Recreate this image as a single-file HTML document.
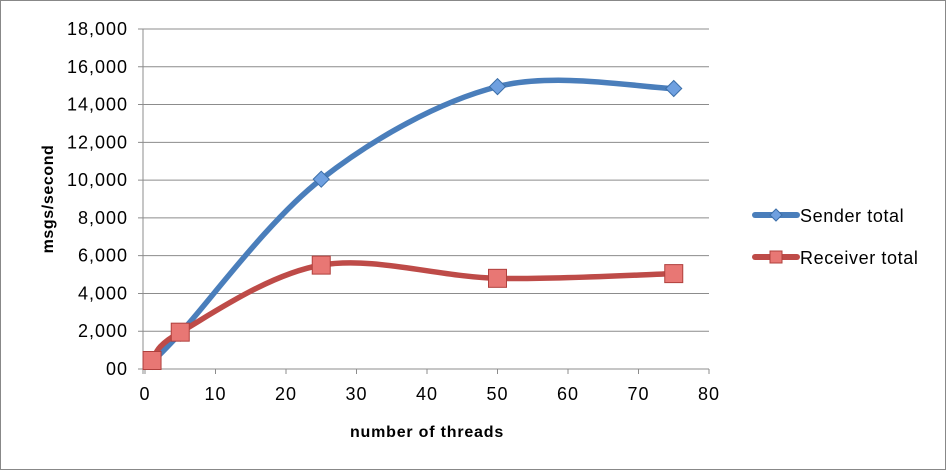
<!DOCTYPE html>
<html><head><meta charset="utf-8"><style>
html,body{margin:0;padding:0;background:#fff}
svg{display:block;font-family:"Liberation Sans",sans-serif}
</style></head><body>
<svg id="chart" width="946" height="470" viewBox="0 0 946 470">
<rect x="0.5" y="0.5" width="945" height="469" fill="#fff" stroke="#888"/>
<g id="grid"></g>
<g id="yticks"></g>
<g id="xticks"></g>
<text transform="translate(53,199) rotate(-90)" text-anchor="middle" font-size="16" font-weight="bold" letter-spacing="0.6">msgs/second</text>
<text x="427" y="437" text-anchor="middle" font-size="16" font-weight="bold" letter-spacing="0.8">number of threads</text>
<g id="series"></g>
<g>
<g>
<line x1="755" y1="215" x2="797" y2="215" stroke="#4a7ebb" stroke-width="6" stroke-linecap="round"/>
<path d="M776,209 L782,215 L776,221 L770,215 Z" fill="#6fa0e0" stroke="#3b6ea8"/>
<text x="800" y="222" font-size="18" letter-spacing="0.6">Sender total</text></g>
<g>
<line x1="755" y1="257" x2="797" y2="257" stroke="#be4b48" stroke-width="6" stroke-linecap="round"/>
<rect x="770" y="251" width="12" height="12" fill="#e87774" stroke="#b0403d"/>
<text x="800" y="264" font-size="18" letter-spacing="0.6">Receiver total</text></g>
</g>
</svg>
<script>
const threads=[1,5,25,50,75];
const senderValues=[400,1900,10050,14950,14850];
const receiverValues=[450,1950,5500,4800,5050];
const yTicks=[0,2000,4000,6000,8000,10000,12000,14000,16000,18000];
const yTickLabels=["00","2,000","4,000","6,000","8,000","10,000","12,000","14,000","16,000","18,000"];
const xTicks=[0,10,20,30,40,50,60,70,80];
const NS="http://www.w3.org/2000/svg";
const X=v=>145+v*(709-145)/80;
const Y=v=>369-v*(369-29)/18000;
function mk(t,a,p){const e=document.createElementNS(NS,t);for(const k in a)e.setAttribute(k,a[k]);p.appendChild(e);return e;}
const grid=document.getElementById('grid'),yt=document.getElementById('yticks'),xt=document.getElementById('xticks'),ser=document.getElementById('series');
yTicks.forEach((v,i)=>{
 const l=mk('line',{x1:138,x2:709,y1:Y(v),y2:Y(v),stroke:'#8c8c8c','stroke-width':1},grid);
 
 
 const t=mk('text',{x:128,y:Y(v)+6,'text-anchor':'end','font-size':18,'letter-spacing':1},yt);t.textContent=yTickLabels[i];
 
 
});
mk('line',{x1:143,x2:143,y1:29,y2:374,stroke:'#8c8c8c'},grid);
xTicks.forEach(v=>{
 mk('line',{x1:X(v),x2:X(v),y1:369,y2:374,stroke:'#8c8c8c'},grid);
 const t=mk('text',{x:X(v),y:400,'text-anchor':'middle','font-size':18,'letter-spacing':1},xt);t.textContent=v;
 
 
});
function smooth(xs,ys){
 const p=xs.map((x,i)=>[X(x),Y(ys[i])]);let d=`M${p[0][0]},${p[0][1]}`;
 for(let i=0;i<p.length-1;i++){const p0=p[i-1]||p[i],p1=p[i],p2=p[i+1],p3=p[i+2]||p2;
  const c1=[p1[0]+(p2[0]-p0[0])/6,p1[1]+(p2[1]-p0[1])/6],c2=[p2[0]-(p3[0]-p1[0])/6,p2[1]-(p3[1]-p1[1])/6];
  d+=` C${c1[0]},${c1[1]} ${c2[0]},${c2[1]} ${p2[0]},${p2[1]}`;}
 return d;}
const sl=mk('path',{d:smooth(threads,senderValues),fill:'none',stroke:'#4a7ebb','stroke-width':5.5,'stroke-linecap':'round'},ser);


const rl=mk('path',{d:smooth(threads,receiverValues),fill:'none',stroke:'#be4b48','stroke-width':5.5,'stroke-linecap':'round'},ser);


threads.forEach((t,i)=>{
 const x=X(t),y=Y(senderValues[i]);
 const m=mk('path',{d:`M${x},${y-8} L${x+8},${y} L${x},${y+8} L${x-8},${y} Z`,fill:'#6fa0e0',stroke:'#3b6ea8'},ser);
 
 
});
threads.forEach((t,i)=>{
 const x=X(t),y=Y(receiverValues[i]);
 const m=mk('rect',{x:x-9,y:y-9,width:18,height:18,fill:'#e87774',stroke:'#b0403d'},ser);
 
 
});
</script>
</body></html>
